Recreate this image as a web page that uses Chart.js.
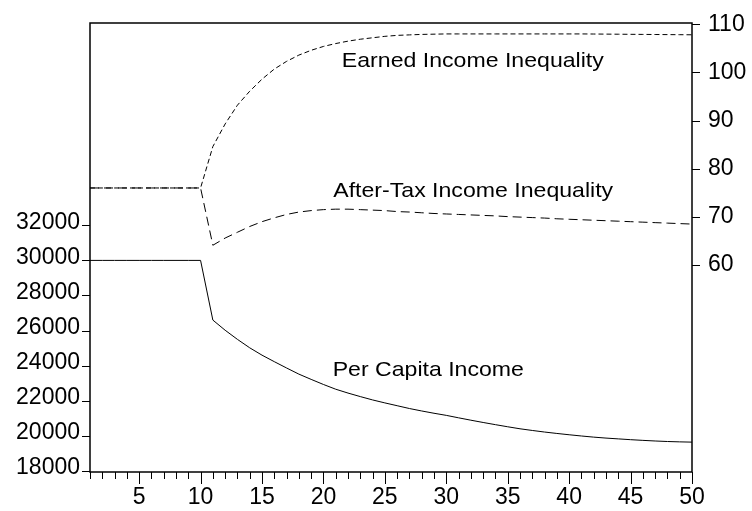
<!DOCTYPE html>
<html>
<head>
<meta charset="utf-8">
<script src="https://cdn.jsdelivr.net/npm/chart.js@4.4.1/dist/chart.umd.min.js"></script>
<style>
  html, body { margin: 0; padding: 0; background: #fff; }
  #wrap { width: 752px; height: 511px; position: relative; }
</style>
</head>
<body>
<div id="wrap"><canvas id="myChart"></canvas></div>
<script>
const ctx = document.getElementById('myChart');

// periods on the horizontal axis
const periods = [1, 2, 3, 4, 5, 6, 7, 8, 9, 10, 11, 12, 13, 14, 15, 16, 17, 18, 19, 20,
  21, 22, 23, 24, 25, 26, 27, 28, 29, 30, 31, 32, 33, 34, 35, 36, 37, 38, 39, 40,
  41, 42, 43, 44, 45, 46, 47, 48, 49, 50];
const xLabelTicks = [5, 10, 15, 20, 25, 30, 35, 40, 45, 50];

// left axis: per capita income
const perCapitaIncome = [30000, 30000, 30000, 30000, 30000, 30000, 30000, 30000, 30000, 30000,
  26600, 26020, 25500, 25020, 24600, 24230, 23870, 23520, 23220, 22930,
  22660, 22440, 22240, 22050, 21880, 21720, 21560, 21420, 21290, 21170,
  21030, 20895, 20765, 20640, 20520, 20405, 20310, 20220, 20140, 20065,
  19995, 19930, 19875, 19830, 19785, 19745, 19710, 19680, 19660, 19645];
const leftTicks = [18000, 20000, 22000, 24000, 26000, 28000, 30000, 32000];

// right axis: inequality indices
const earnedInequality = [76, 76, 76, 76, 76, 76, 76, 76, 76, 76,
  84.6, 89.3, 93.2, 96.1, 98.6, 100.7, 102.3, 103.6, 104.6, 105.4,
  106.0, 106.5, 106.9, 107.2, 107.5, 107.7, 107.8, 107.9, 107.95, 108.0,
  108.0, 108.0, 108.0, 108.0, 108.0, 108.0, 108.0, 108.0, 108.0, 108.0,
  108.0, 107.98, 107.96, 107.94, 107.92, 107.9, 107.88, 107.86, 107.84, 107.82];
const afterTaxInequality = [76, 76, 76, 76, 76, 76, 76, 76, 76, 76,
  64.1, 65.6, 66.8, 68.0, 69.0, 69.8, 70.5, 71.0, 71.3, 71.5,
  71.6, 71.6, 71.5, 71.4, 71.3, 71.1, 71.0, 70.85, 70.7, 70.6,
  70.5, 70.4, 70.3, 70.2, 70.05, 69.95, 69.85, 69.75, 69.6, 69.5,
  69.4, 69.3, 69.2, 69.1, 69.0, 68.9, 68.8, 68.7, 68.6, 68.5];
const rightTicks = [60, 70, 80, 90, 100, 110];

// in-plot series names, placed in data coordinates
const noteTexts = ['Earned Income Inequality', 'After-Tax Income Inequality', 'Per Capita Income'];
const noteX = [21.5, 20.8, 20.75];
const noteY = [101.2, 74.2, 23400];
const noteAxis = ['y2', 'y2', 'y'];

const FONT = '"Liberation Sans", Arial, Helvetica, sans-serif';
Chart.defaults.font.family = FONT;
Chart.defaults.font.size = 23;
Chart.defaults.color = '#000';

function toPoints(values) {
  return periods.map((p, i) => ({ x: p, y: values[i] }));
}

// fixed axis sizes, no extra room for end labels
function fixSize(w, h) {
  return s => {
    if (w !== null) s.width = w;
    if (h !== null) s.height = h;
    s.paddingTop = 0;
    s.paddingBottom = 0;
    s.paddingLeft = 0;
    s.paddingRight = 0;
  };
}

// box, tick marks and line labels
const framePlugin = {
  id: 'frame',
  afterDraw(chart) {
    const c = chart.ctx;
    const a = chart.chartArea;
    const sx = chart.scales.x, sl = chart.scales.y, sr = chart.scales.y2;
    c.save();
    c.strokeStyle = '#000';
    c.lineWidth = 1;
    c.beginPath();
    sx.ticks.forEach(t => {
      const px = Math.round(sx.getPixelForValue(t.value)) + 0.5;
      const len = xLabelTicks.includes(t.value) ? 12 : 7;
      c.moveTo(px, a.bottom);
      c.lineTo(px, a.bottom + len);
    });
    sl.ticks.forEach(t => {
      const py = Math.round(sl.getPixelForValue(t.value)) + 0.5;
      c.moveTo(a.left - 8, py);
      c.lineTo(a.left, py);
    });
    sr.ticks.forEach(t => {
      const py = Math.round(sr.getPixelForValue(t.value)) + 0.5;
      c.moveTo(a.right, py);
      c.lineTo(a.right + 8, py);
    });
    c.stroke();
    c.lineWidth = 1.5;
    c.strokeRect(a.left, a.top, a.right - a.left, a.bottom - a.top);

    c.fillStyle = '#000';
    c.font = '21px ' + FONT;
    c.textBaseline = 'alphabetic';
    noteTexts.forEach((txt, i) => {
      const px = sx.getPixelForValue(noteX[i]);
      const py = chart.scales[noteAxis[i]].getPixelForValue(noteY[i]);
      c.save();
      c.translate(px, py);
      c.scale(1.1, 1);
      c.fillText(txt, 0, 0);
      c.restore();
    });
    c.restore();
  }
};

new Chart(ctx, {
  type: 'line',
  data: {
    datasets: [
      {
        label: 'Per Capita Income',
        data: toPoints(perCapitaIncome),
        borderColor: '#000',
        borderWidth: 1,
        pointRadius: 0,
        tension: 0,
        yAxisID: 'y'
      },
      {
        label: 'Earned Income Inequality',
        data: toPoints(earnedInequality),
        borderColor: '#000',
        borderWidth: 1,
        borderDash: [5, 3],
        pointRadius: 0,
        tension: 0,
        yAxisID: 'y2'
      },
      {
        label: 'After-Tax Income Inequality',
        data: toPoints(afterTaxInequality),
        borderColor: '#000',
        borderWidth: 1,
        borderDash: [9, 5],
        pointRadius: 0,
        tension: 0,
        yAxisID: 'y2'
      }
    ]
  },
  options: {
    responsive: true,
    maintainAspectRatio: false,
    animation: false,
    layout: { padding: { top: 23, left: 0, right: 0, bottom: 0 } },
    plugins: { legend: { display: false }, tooltip: { enabled: false } },
    scales: {
      x: {
        type: 'linear',
        position: 'bottom',
        min: 1,
        max: 50,
        afterBuildTicks: s => { s.ticks = periods.map(v => ({ value: v })); },
        afterFit: fixSize(null, 39),
        grid: { display: false, drawTicks: false },
        border: { display: false },
        ticks: {
          autoSkip: false,
          maxRotation: 0,
          minRotation: 0,
          padding: 12,
          callback: v => xLabelTicks.includes(v) ? String(v) : ''
        }
      },
      y: {
        type: 'linear',
        position: 'left',
        min: 17943,
        max: 43527,
        afterBuildTicks: s => { s.ticks = leftTicks.map(v => ({ value: v })); },
        afterFit: fixSize(90, null),
        grid: { display: false, drawTicks: false },
        border: { display: false },
        ticks: { padding: 10, labelOffset: -3, callback: v => String(v) }
      },
      y2: {
        type: 'linear',
        position: 'right',
        min: 17.0,
        max: 110.27,
        afterBuildTicks: s => { s.ticks = rightTicks.map(v => ({ value: v })); },
        afterFit: fixSize(60, null),
        grid: { display: false, drawTicks: false },
        border: { display: false },
        ticks: { padding: 16, callback: v => String(v) }
      }
    }
  },
  plugins: [framePlugin]
});
</script>
</body>
</html>
